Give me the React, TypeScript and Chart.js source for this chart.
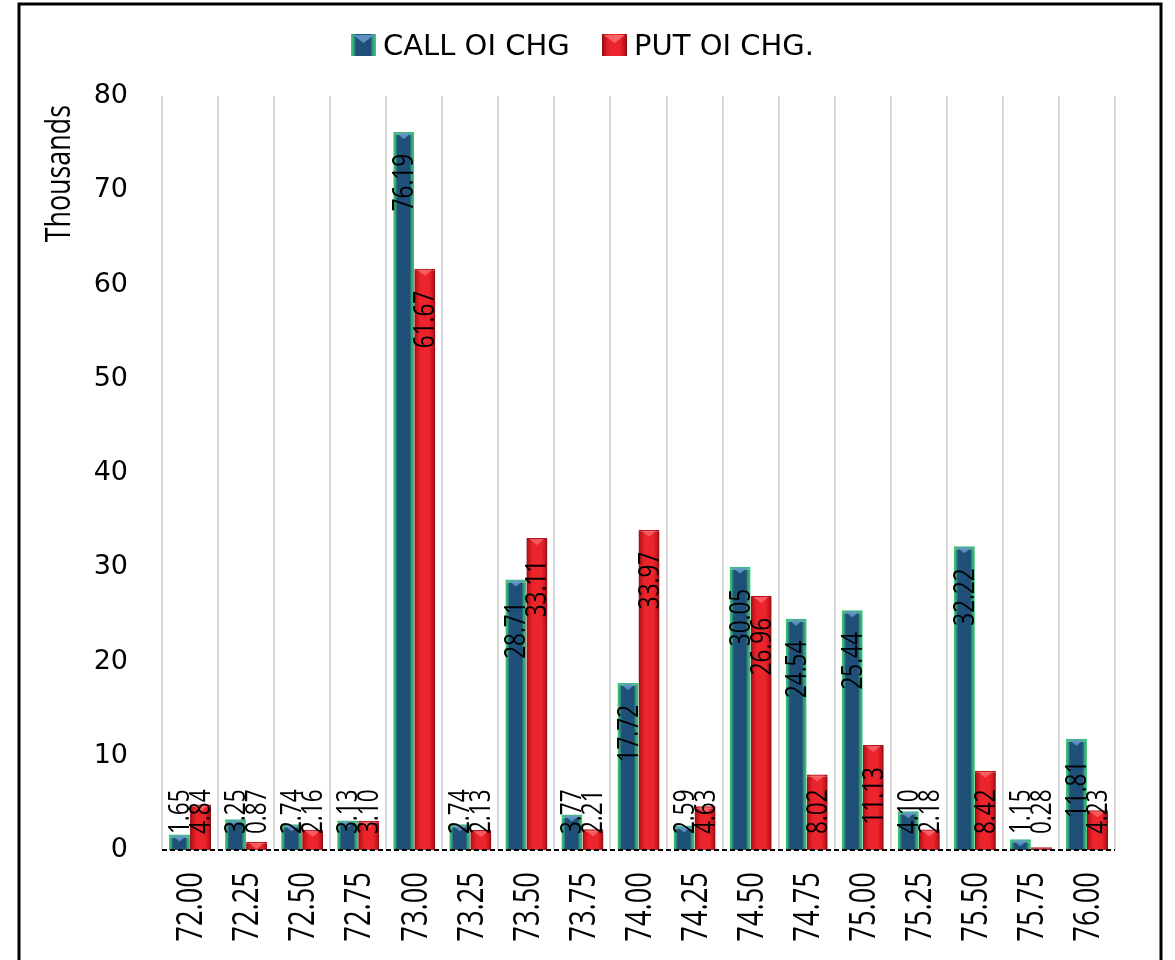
import React, { useEffect, useRef } from "react";
import { Chart, registerables } from "chart.js";

Chart.register(...registerables);

const categories = ["72.00", "72.25", "72.50", "72.75", "73.00", "73.25", "73.50", "73.75", "74.00", "74.25", "74.50", "74.75", "75.00", "75.25", "75.50", "75.75", "76.00"];
const callOI = [1.65, 3.25, 2.74, 3.13, 76.19, 2.74, 28.71, 3.77, 17.72, 2.59, 30.05, 24.54, 25.44, 4.10, 32.22, 1.15, 11.81];
const putOI = [4.84, 0.87, 2.16, 3.10, 61.67, 2.13, 33.11, 2.21, 33.97, 4.63, 26.96, 8.02, 11.13, 2.18, 8.42, 0.28, 4.23];
const seriesNames = ["CALL OI CHG", "PUT OI CHG."];
const yAxisTitle = "Thousands";
const yMin = 0;
const yMax = 80;
const yStep = 10;

const CAT_PCT = 0.75;

function barGradient(context: any, stops: [number, string][], offset: number) {
  const chart = context.chart;
  const xs = chart.scales && chart.scales.x;
  if (!chart.chartArea || !xs) return stops[2][1];
  const idx = context.dataIndex;
  const cx = xs.getPixelForValue(idx);
  const cw = xs.width / categories.length;
  const bw = (cw * CAT_PCT) / 2;
  const x0 = cx + offset * bw;
  const g = chart.ctx.createLinearGradient(x0, 0, x0 + bw, 0);
  stops.forEach(([p, c]) => g.addColorStop(p, c));
  return g;
}

const callStops: [number, string][] = [
  [0, "#45c97f"],
  [0.1, "#35a878"],
  [0.2, "#1f5278"],
  [0.78, "#1f4e79"],
  [0.86, "#2e9a76"],
  [1, "#45c97f"],
];
const putStops: [number, string][] = [
  [0, "#8e0d12"],
  [0.12, "#c8161e"],
  [0.3, "#ec252c"],
  [0.7, "#ec252c"],
  [0.88, "#c8161e"],
  [1, "#850c11"],
];

// draw text rotated -90deg, compressed along its length
function drawRotated(ctx: any, txt: string, x: number, y: number, font: string, sx: number, align: string) {
  ctx.save();
  ctx.font = font;
  ctx.translate(x, y);
  ctx.rotate(-Math.PI / 2);
  ctx.scale(sx, 1);
  ctx.textAlign = align;
  ctx.textBaseline = "middle";
  ctx.fillStyle = "#000";
  ctx.fillText(txt, 0, 0);
  ctx.restore();
}

const decorPlugin = {
  id: "decor",
  afterDatasetsDraw(chart: any) {
    const ctx = chart.ctx;
    const area = chart.chartArea;
    const y0 = chart.scales.y.getPixelForValue(0);

    // bevel tops
    chart.data.datasets.forEach((ds: any, di: number) => {
      const meta = chart.getDatasetMeta(di);
      meta.data.forEach((bar: any) => {
        const h = y0 - bar.y;
        if (h < 4) return;
        const l = bar.x - bar.width / 2;
        const r = bar.x + bar.width / 2;
        ctx.save();
        ctx.beginPath();
        ctx.moveTo(l + 3, bar.y + 1);
        ctx.lineTo(r - 3, bar.y + 1);
        ctx.lineTo(bar.x, bar.y + Math.min(7, h - 1));
        ctx.closePath();
        ctx.fillStyle = di === 0 ? "rgba(100,150,205,0.85)" : "rgba(255,110,115,0.75)";
        ctx.fill();
        ctx.restore();
      });
    });

    // dashed baseline
    ctx.save();
    ctx.setLineDash([5, 3]);
    ctx.lineWidth = 2;
    ctx.strokeStyle = "#000";
    ctx.beginPath();
    ctx.moveTo(area.left, y0);
    ctx.lineTo(area.right, y0);
    ctx.stroke();
    ctx.restore();

    // data labels
    const labelFont = '30px "Open Sans"';
    const labelSx = 0.75;
    chart.data.datasets.forEach((ds: any, di: number) => {
      const meta = chart.getDatasetMeta(di);
      meta.data.forEach((bar: any, i: number) => {
        const txt = Number(ds.data[i]).toFixed(2);
        ctx.save();
        ctx.font = labelFont;
        const w = ctx.measureText(txt).width * labelSx;
        ctx.restore();
        const yEnd = Math.min(bar.y + 22 + w, y0 - 16);
        drawRotated(ctx, txt, bar.x + 1, yEnd, labelFont, labelSx, "left");
      });
    });
  },
  afterDraw(chart: any) {
    const ctx = chart.ctx;
    const xs = chart.scales.x;
    const area = chart.chartArea;

    // x category labels
    categories.forEach((c, i) => {
      const x = xs.getPixelForValue(i);
      drawRotated(ctx, c, x + 2, area.bottom + 22, '36px "Open Sans"', 0.76, "right");
    });

    // y axis title
    drawRotated(ctx, yAxisTitle, 60, 105, '34px "Open Sans"', 0.79, "right");

    // legend
    const items = [
      { x: 351, text: seriesNames[0], stops: callStops, tri: "rgba(100,150,205,0.9)" },
      { x: 602, text: seriesNames[1], stops: putStops, tri: "rgba(255,110,115,0.85)" },
    ];
    items.forEach((it) => {
      ctx.save();
      const bx = it.x, by = 34, bwid = 25, bh = 22;
      const g = ctx.createLinearGradient(bx, 0, bx + bwid, 0);
      it.stops.forEach(([p, col]) => g.addColorStop(p, col));
      ctx.fillStyle = g;
      ctx.fillRect(bx, by, bwid, bh);
      ctx.beginPath();
      ctx.moveTo(bx + 2, by + 1);
      ctx.lineTo(bx + bwid - 2, by + 1);
      ctx.lineTo(bx + bwid / 2, by + 9);
      ctx.closePath();
      ctx.fillStyle = it.tri;
      ctx.fill();
      ctx.font = '29px "DejaVu Sans"';
      ctx.fillStyle = "#000";
      ctx.textAlign = "left";
      ctx.textBaseline = "middle";
      ctx.fillText(it.text, bx + 32, 47);
      ctx.restore();
    });

    // frame
    ctx.save();
    ctx.strokeStyle = "#000";
    ctx.lineWidth = 3;
    ctx.beginPath();
    ctx.moveTo(19, 962);
    ctx.lineTo(19, 4);
    ctx.lineTo(1161, 4);
    ctx.lineTo(1161, 962);
    ctx.stroke();
    ctx.restore();
  },
};

export default function App() {
  const canvasRef = useRef<HTMLCanvasElement | null>(null);

  useEffect(() => {
    if (!canvasRef.current) return;
    const chart = new Chart(canvasRef.current, {
      type: "bar",
      data: {
        labels: categories,
        datasets: [
          {
            label: seriesNames[0],
            data: callOI,
            backgroundColor: (c: any) => barGradient(c, callStops, -1),
            borderColor: "#3cc07a",
            borderWidth: { top: 3, left: 0, right: 0, bottom: 0 },
            borderSkipped: "bottom",
            categoryPercentage: CAT_PCT,
            barPercentage: 1,
          },
          {
            label: seriesNames[1],
            data: putOI,
            backgroundColor: (c: any) => barGradient(c, putStops, 0),
            borderColor: "#b3161d",
            borderWidth: { top: 2, left: 0, right: 0, bottom: 0 },
            borderSkipped: "bottom",
            categoryPercentage: CAT_PCT,
            barPercentage: 1,
          },
        ],
      },
      options: {
        responsive: false,
        animation: false,
        devicePixelRatio: 1,
        layout: { padding: { top: 96, right: 60, left: 0, bottom: 0 } },
        plugins: {
          legend: { display: false },
          tooltip: { enabled: false },
          title: { display: false },
        },
        scales: {
          x: {
            offset: true,
            grid: {
              display: true,
              offset: true,
              color: "#d9d9d9",
              lineWidth: 2,
              drawTicks: false,
            },
            border: { display: false },
            ticks: { display: false },
            afterFit: (s: any) => {
              s.height = 110;
            },
          },
          y: {
            min: yMin,
            max: yMax,
            grid: { display: false, drawTicks: false },
            border: { display: false },
            ticks: {
              stepSize: yStep,
              padding: 34,
              color: "#000",
              font: { family: "DejaVu Sans", size: 27 },
            },
            afterFit: (s: any) => {
              s.width = 162;
            },
          },
        },
      },
      plugins: [decorPlugin],
    } as any);
    return () => chart.destroy();
  }, []);

  return (
    <div style={{ position: "fixed", left: 0, top: 0, width: 1175, height: 960, background: "#fff" }}>
      <canvas ref={canvasRef} width={1175} height={960} style={{ width: 1175, height: 960, display: "block" }} />
    </div>
  );
}
